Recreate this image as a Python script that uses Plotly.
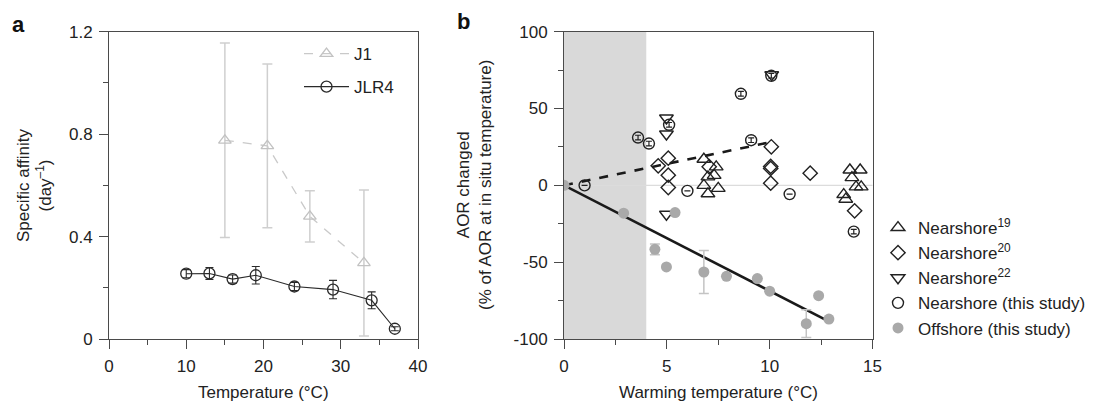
import plotly.graph_objects as go

# ---------------- Panel a data ----------------
temp_j1 = [15, 20.5, 26, 33]
aff_j1 = [0.776, 0.754, 0.479, 0.297]
err_j1 = [0.38, 0.32, 0.10, 0.285]

temp_jlr4 = [10, 13, 16, 19, 24, 29, 34, 37]
aff_jlr4 = [0.255, 0.256, 0.234, 0.249, 0.205, 0.193, 0.151, 0.040]
err_jlr4 = [0.016, 0.023, 0.016, 0.034, 0.016, 0.036, 0.033, 0.008]

# ---------------- Panel b data ----------------
x_ns19 = [6.8, 7.4, 7.0, 7.3, 6.8, 7.0, 7.5, 13.9, 14.4, 14.0, 14.2, 14.45, 13.6, 13.7]
y_ns19 = [17, 12, 5.5, 6.5, 0, -5.5, -2, 10, 10, 5, -1, -1, -6, -9]

x_ns20 = [5.07, 4.58, 5.07, 5.07, 7.06, 10.08, 10.05, 10.05, 10.05, 11.97, 14.13]
y_ns20 = [17.7, 12.7, 6.6, -1.4, 12.1, 25.1, 12.3, 11.0, 1.4, 7.9, -16.6]

x_ns22 = [4.98, 4.98, 4.98, 10.1]
y_ns22 = [43.8, 33.4, -18.8, 72]

x_ns_this = [1.0, 3.6, 4.13, 5.11, 6.0, 8.6, 9.1, 10.08, 10.97, 14.09]
y_ns_this = [0, 31.1, 27.2, 39.4, -3.6, 59.6, 29.4, 71.3, -5.7, -30.1]
err_ns_this = [0, 1.5, 1.5, 1.5, 0, 1.5, 1.5, 1.5, 0, 1.5]

x_off = [0, 2.9, 4.42, 4.98, 5.4, 6.8, 7.9, 9.4, 10.0, 11.78, 12.38, 12.88]
y_off = [0, -18.1, -41.6, -53.1, -17.7, -56.4, -59.2, -60.7, -68.9, -90, -71.8, -87]
err_off = [0, 0, 3.5, 0, 0, 14, 0, 0, 0, 9, 0, 0]

fit_near_x = [0, 10]
fit_near_y = [0, 28]
fit_off_x = [0, 12.8]
fit_off_y = [0, -88]

shade_x = [0, 4]

yb_tickvals = [-100, -50, 0, 50, 100]
yb_ticktext = ["-100", "-50", "0", "50", "100"]

FONT = "Liberation Sans, Arial, Helvetica, sans-serif"
OFF = 8                      # page body margin in the browser
W, H = 1104 - OFF, 402 - OFF  # figure size
AX = "#4a4a4a"
FS = 17


def px(xp):   # window pixel -> paper x
    return (xp - OFF) / W


def py(yp):   # window pixel -> paper y
    return (H - (yp - OFF)) / H


fig = go.Figure()

# Panel a traces
fig.add_trace(go.Scatter(
    x=temp_j1, y=aff_j1, name="J1", mode="lines+markers",
    line=dict(color="#c9c9c9", width=1.3, dash="dash"),
    marker=dict(symbol="triangle-up-open", size=11, color="#c2c2c2", line=dict(width=1.3)),
    error_y=dict(type="data", array=err_j1, color="#cfcfcf", thickness=1.5, width=5),
    xaxis="x", yaxis="y", legend="legend", legendgroup="j1"))
fig.add_trace(go.Scatter(
    x=temp_jlr4, y=aff_jlr4, name="JLR4", mode="lines+markers",
    line=dict(color="#2a2a2a", width=1.1),
    marker=dict(symbol="circle-open", size=11, color="#2a2a2a", line=dict(width=1.3)),
    error_y=dict(type="data", array=err_jlr4, color="#2a2a2a", thickness=1.1, width=4),
    xaxis="x", yaxis="y", legend="legend", legendgroup="jlr4"))

# Panel b fits
fig.add_trace(go.Scatter(
    x=fit_near_x, y=fit_near_y, mode="lines", showlegend=False,
    line=dict(color="#1a1a1a", width=2.6, dash="dash"), xaxis="x2", yaxis="y2"))
fig.add_trace(go.Scatter(
    x=fit_off_x, y=fit_off_y, mode="lines", showlegend=False,
    line=dict(color="#1a1a1a", width=2.6), xaxis="x2", yaxis="y2"))

mk_line = dict(width=1.4, color="#222222")
fig.add_trace(go.Scatter(
    x=x_ns19, y=y_ns19, mode="markers", name="Nearshore<sup>19</sup>",
    marker=dict(symbol="triangle-up-open", size=12, color="#222222", line=mk_line),
    xaxis="x2", yaxis="y2", legend="legend2", legendgroup="n19"))
fig.add_trace(go.Scatter(
    x=x_ns20, y=y_ns20, mode="markers", name="Nearshore<sup>20</sup>",
    marker=dict(symbol="diamond-open", size=11, color="#222222", line=mk_line),
    xaxis="x2", yaxis="y2", legend="legend2", legendgroup="n20"))
fig.add_trace(go.Scatter(
    x=x_ns22, y=y_ns22, mode="markers", name="Nearshore<sup>22</sup>",
    marker=dict(symbol="triangle-down-open", size=12, color="#222222", line=mk_line),
    xaxis="x2", yaxis="y2", legend="legend2", legendgroup="n22"))
fig.add_trace(go.Scatter(
    x=x_ns_this, y=y_ns_this, mode="markers", name="Nearshore (this study)",
    marker=dict(symbol="circle-open", size=11, color="#222222", line=mk_line),
    error_y=dict(type="data", array=err_ns_this, color="#222222", thickness=1.2, width=3),
    xaxis="x2", yaxis="y2", legend="legend2", legendgroup="nthis"))
fig.add_trace(go.Scatter(
    x=x_off, y=y_off, mode="markers", name="Offshore (this study)",
    marker=dict(symbol="circle", size=11, color="#a9a9a9"),
    error_y=dict(type="data", array=err_off, color="#c4c4c4", thickness=1.5, width=5),
    xaxis="x2", yaxis="y2", legend="legend2", legendgroup="off"))

# shaded region and zero line (panel b)
fig.add_shape(type="rect", xref="x2", yref="y2 domain", x0=shade_x[0], x1=shade_x[1],
              y0=0, y1=1, fillcolor="#d9d9d9", line=dict(width=0), layer="below")
fig.add_shape(type="line", xref="x2 domain", yref="y2", x0=0, x1=1, y0=0, y1=0,
              line=dict(color="#dcdcdc", width=1.2), layer="below")

tickfont = dict(family=FONT, size=FS, color="#222")
common = dict(showline=True, mirror=True, linecolor=AX, linewidth=1, ticks="outside",
              ticklen=9, tickwidth=1, tickcolor=AX, showgrid=False, zeroline=False,
              tickfont=tickfont, automargin=False, ticklabelstandoff=3)

ydom = [py(339), py(31.7)]
fig.update_layout(
    width=W, height=H, margin=dict(l=0, r=0, t=0, b=0, autoexpand=False),
    paper_bgcolor="white", plot_bgcolor="white",
    font=dict(family=FONT, size=FS, color="#222"),
    xaxis=dict(domain=[px(109), px(418)], range=[0, 40], tickvals=[0, 10, 20, 30, 40],
               minor=dict(dtick=5, ticklen=5, ticks="outside", tickcolor=AX), anchor="y",
               **common),
    yaxis=dict(domain=ydom, range=[0, 1.2], tickvals=[0, 0.4, 0.8, 1.2],
               minor=dict(dtick=0.2, ticklen=5, ticks="outside", tickcolor=AX), anchor="x",
               **common),
    xaxis2=dict(domain=[px(564), px(872.5)], range=[0, 15], tickvals=[0, 5, 10, 15],
                minor=dict(dtick=2.5, ticklen=5, ticks="outside", tickcolor=AX), anchor="y2",
                **common),
    yaxis2=dict(domain=ydom, range=[-100, 100], tickvals=yb_tickvals, ticktext=yb_ticktext,
                minor=dict(dtick=25, ticklen=5, ticks="outside", tickcolor=AX), anchor="x2",
                **common),
    legend=dict(x=px(299), y=py(36), xanchor="left", yanchor="top",
                bgcolor="rgba(0,0,0,0)", font=dict(family=FONT, size=FS, color="#222"),
                tracegroupgap=8, traceorder="grouped", itemwidth=45),
    legend2=dict(x=px(878), y=py(210), xanchor="left", yanchor="top",
                 bgcolor="rgba(0,0,0,0)", font=dict(family=FONT, size=FS, color="#222"),
                 tracegroupgap=0, traceorder="grouped", itemwidth=30),
)

ann = [
    dict(text="<b>a</b>", x=px(18), y=py(24), font=dict(size=22)),
    dict(text="<b>b</b>", x=px(463), y=py(22), font=dict(size=22)),
    dict(text="Temperature (°C)", x=px(263), y=py(392)),
    dict(text="Warming temperature (°C)", x=px(718), y=py(392)),
    dict(text="Specific affinity<br>(day<sup>–1</sup>)", x=px(35), y=py(185), textangle=-90),
    dict(text="AOR changed<br>(% of AOR at in situ temperature)", x=px(475), y=py(185),
         textangle=-90),
]
for a in ann:
    a.update(xref="paper", yref="paper", showarrow=False, xanchor="center", yanchor="middle")
    f = a.get("font", {})
    f.setdefault("size", FS)
    f.update(family=FONT, color="#222" if "<b>" not in a["text"] else "#111")
    a["font"] = f
    fig.add_annotation(**a)

fig.write_html("out.html")
